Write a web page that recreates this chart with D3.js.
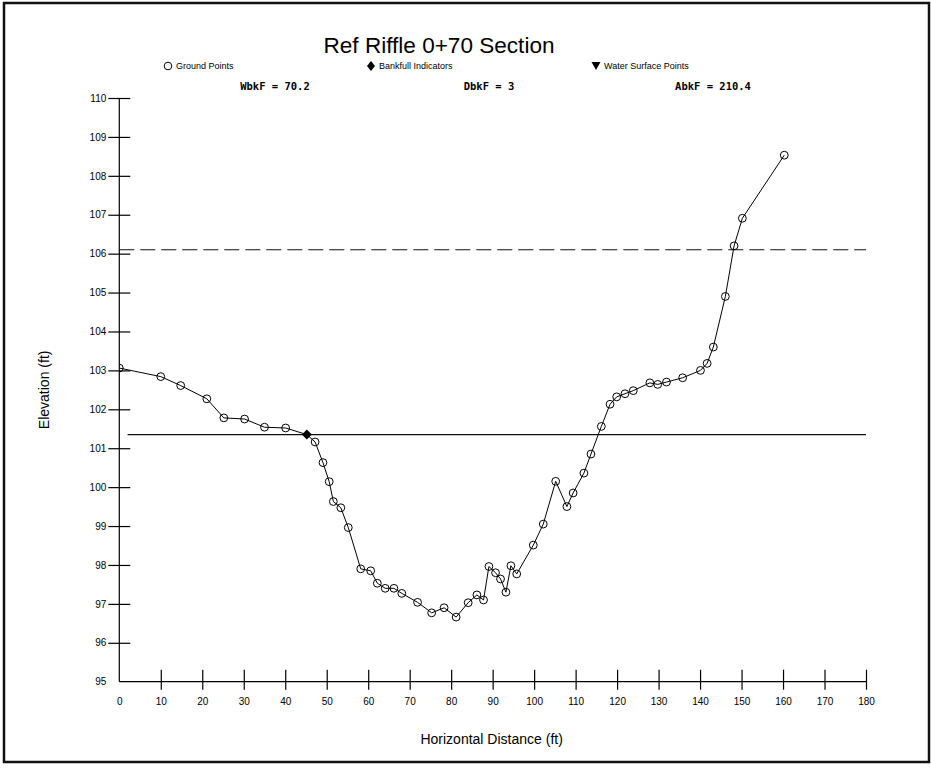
<!DOCTYPE html>
<html>
<head>
<meta charset="utf-8">
<script src="https://cdn.jsdelivr.net/npm/d3@7"></script>
<style>
  body { margin: 0; background: #fff; }
  svg { display: block; font-family: Arial, "Liberation Sans", sans-serif; }
</style>
</head>
<body>
<svg width="931" height="773"></svg>
<script>
// ground survey points (distance ft, elevation ft)
const groundX = [0, 10, 14.8, 21.1, 25.2, 30.2, 35.0, 40.1, 47.2, 49.1, 50.6, 51.6, 53.4, 55.2,
  58.2, 60.6, 62.2, 64.1, 66.2, 68.1, 71.9, 75.3, 78.3, 81.2, 84.1, 86.2, 87.8, 89.1, 90.7,
  91.9, 93.2, 94.4, 95.8, 99.8, 102.2, 105.2, 107.9, 109.4, 112.0, 113.7, 116.2, 118.3, 119.9,
  121.9, 123.9, 127.9, 129.8, 131.9, 135.8, 140.1, 141.7, 143.2, 146.1, 148.2, 150.2, 160.3];
const groundY = [103.06, 102.84, 102.61, 102.27, 101.78, 101.75, 101.54, 101.52, 101.16, 100.63,
  100.14, 99.63, 99.47, 98.96, 97.90, 97.85, 97.53, 97.40, 97.40, 97.27, 97.04, 96.77, 96.90,
  96.66, 97.03, 97.23, 97.10, 97.96, 97.80, 97.64, 97.30, 97.98, 97.77, 98.51, 99.05, 100.15,
  99.50, 99.85, 100.36, 100.85, 101.56, 102.13, 102.32, 102.40, 102.48, 102.68, 102.64, 102.70,
  102.81, 103.00, 103.18, 103.60, 104.90, 106.20, 106.91, 108.53];

// bankfull indicator
const bkfX = [45.2];
const bkfY = [101.35];

// reference elevations
const bankfullElev = 101.35;
const floodpronElev = 106.1;

const xTicks = d3.range(0, 181, 10);
const yTicks = d3.range(95, 111, 1);

const legendItems = ["Ground Points", "Bankfull Indicators", "Water Surface Points"];
const statLabels = ["WbkF = 70.2", "DbkF = 3", "AbkF = 210.4"];

const svg = d3.select("svg");

const x = d3.scaleLinear().domain([0, 180]).range([119.3, 866]);
const y = d3.scaleLinear().domain([95, 110]).range([681.7, 98]);

// outer frame
svg.append("rect")
  .attr("x", 4).attr("y", 3)
  .attr("width", 925).attr("height", 759)
  .attr("fill", "none").attr("stroke", "#111").attr("stroke-width", 2.5);

// title
svg.append("text")
  .attr("x", 439).attr("y", 53)
  .attr("text-anchor", "middle")
  .attr("textLength", 231)
  .attr("lengthAdjust", "spacingAndGlyphs")
  .style("font-size", "22px")
  .text("Ref Riffle 0+70 Section");

// legend
const legendX = [168, 371, 596];
const lg = svg.append("g").style("font-size", "9px");
legendItems.forEach((t, i) => {
  lg.append("text").attr("x", legendX[i] + 8).attr("y", 69).text(t);
});
lg.append("circle").attr("cx", legendX[0]).attr("cy", 66).attr("r", 3.8)
  .attr("fill", "none").attr("stroke", "#000").attr("stroke-width", 1);
lg.append("path").attr("d", "M0,-5L4,0L0,5L-4,0Z")
  .attr("transform", `translate(${legendX[1]},66)`);
lg.append("path").attr("d", "M-4.5,-4L4.5,-4L0,4Z")
  .attr("transform", `translate(${legendX[2]},66)`);

// stats row
const statX = [275, 489, 713];
statLabels.forEach((t, i) => {
  svg.append("text")
    .attr("x", statX[i]).attr("y", 90)
    .attr("text-anchor", "middle")
    .style("font-family", "'DejaVu Sans Mono', monospace")
    .style("font-weight", "bold")
    .style("font-size", "10.5px")
    .text(t);
});

// axes
const xAxis = svg.append("g")
  .attr("transform", `translate(0,${y(95)})`)
  .call(d3.axisBottom(x).tickValues(xTicks).tickSize(0).tickPadding(0));
xAxis.select(".domain").remove();
xAxis.selectAll(".tick line")
  .attr("y1", -12).attr("y2", 8)
  .attr("stroke", "#000").attr("stroke-width", 1.2)
  .filter(d => d === 0).remove();
xAxis.selectAll(".tick text")
  .attr("y", 23).attr("dy", null)
  .style("font-size", "10px").style("font-family", "Arial, 'Liberation Sans', sans-serif");

const yAxis = svg.append("g")
  .attr("transform", `translate(${x(0)},0)`)
  .call(d3.axisLeft(y).tickValues(yTicks).tickSize(0).tickPadding(0));
yAxis.select(".domain").remove();
yAxis.selectAll(".tick line")
  .attr("x1", -11).attr("x2", 11)
  .attr("stroke", "#000").attr("stroke-width", 1.2)
  .filter(d => d === 95).remove();
yAxis.selectAll(".tick text")
  .attr("x", -13)
  .style("font-size", "10px").style("font-family", "Arial, 'Liberation Sans', sans-serif");

svg.append("line")
  .attr("x1", x(0)).attr("x2", x(180))
  .attr("y1", y(95)).attr("y2", y(95))
  .attr("stroke", "#000").attr("stroke-width", 1.2);
svg.append("line")
  .attr("x1", x(0)).attr("x2", x(0))
  .attr("y1", y(95)).attr("y2", y(110))
  .attr("stroke", "#000").attr("stroke-width", 1.2);

// axis titles
svg.append("text")
  .attr("x", x(90) - 1).attr("y", 744)
  .attr("text-anchor", "middle")
  .style("font-size", "14px")
  .text("Horizontal Distance (ft)");
svg.append("text")
  .attr("transform", `translate(49,${y(102.5)}) rotate(-90)`)
  .attr("text-anchor", "middle")
  .style("font-size", "14px")
  .text("Elevation (ft)");

// reference lines
svg.append("line")
  .attr("x1", x(0)).attr("x2", x(180))
  .attr("y1", y(floodpronElev)).attr("y2", y(floodpronElev))
  .attr("stroke", "#111").attr("stroke-width", 1.1)
  .attr("stroke-dasharray", "15,6");
svg.append("line")
  .attr("x1", x(2)).attr("x2", x(180))
  .attr("y1", y(bankfullElev)).attr("y2", y(bankfullElev))
  .attr("stroke", "#111").attr("stroke-width", 1.2);

// clip for plot area
svg.append("clipPath").attr("id", "plot-clip")
  .append("rect")
  .attr("x", x(0)).attr("y", y(110) - 10)
  .attr("width", x(180) - x(0) + 10).attr("height", y(95) - y(110) + 10);

const plot = svg.append("g").attr("clip-path", "url(#plot-clip)");

const ground = groundX.map((d, i) => ({x: d, y: groundY[i], bkf: false}));
const bkf = bkfX.map((d, i) => ({x: d, y: bkfY[i], bkf: true}));
const profile = ground.concat(bkf).sort((a, b) => a.x - b.x);

plot.append("path")
  .datum(profile)
  .attr("fill", "none")
  .attr("stroke", "#000")
  .attr("stroke-width", 1)
  .attr("d", d3.line().x(d => x(d.x)).y(d => y(d.y)));

plot.selectAll("circle.gp")
  .data(ground)
  .enter().append("circle")
  .attr("class", "gp")
  .attr("cx", d => x(d.x))
  .attr("cy", d => y(d.y))
  .attr("r", 3.9)
  .attr("fill", "none")
  .attr("stroke", "#000")
  .attr("stroke-width", 1);

plot.selectAll("path.bkf")
  .data(bkf)
  .enter().append("path")
  .attr("class", "bkf")
  .attr("d", "M0,-5L5,0L0,5L-5,0Z")
  .attr("transform", d => `translate(${x(d.x)},${y(d.y)})`)
  .attr("fill", "#000");
</script>
</body>
</html>
